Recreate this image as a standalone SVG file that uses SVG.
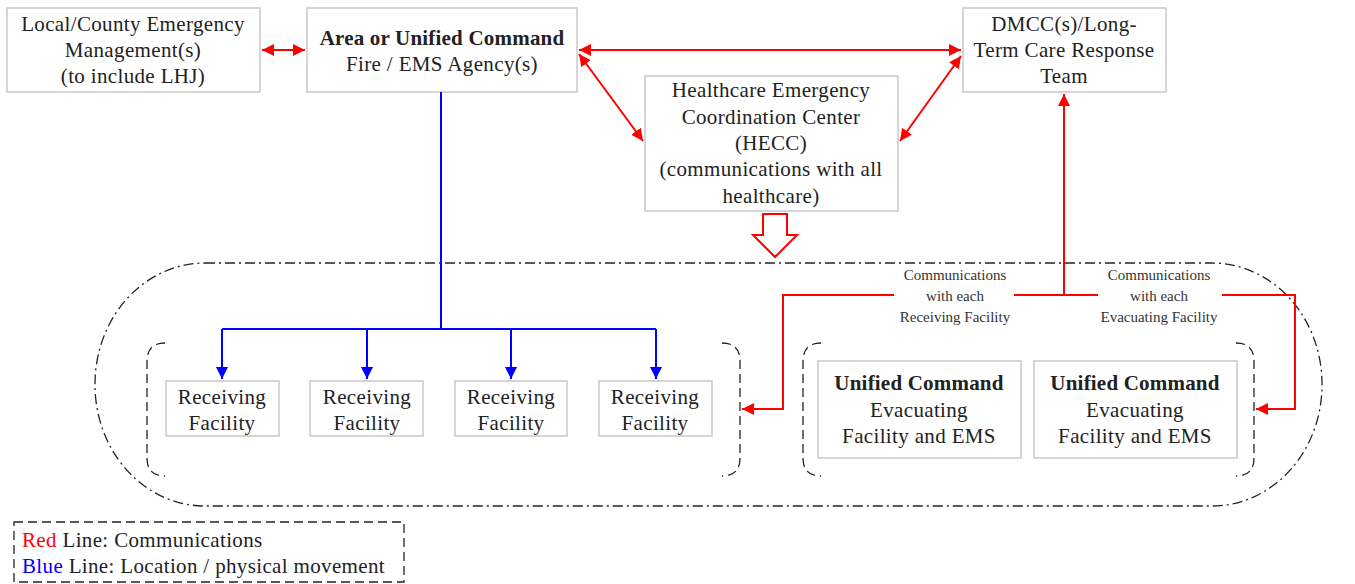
<svg xmlns="http://www.w3.org/2000/svg" width="1355" height="584" viewBox="0 0 1355 584">
<style>
.box{fill:#fff;stroke:#c8c8c8;stroke-width:1.5}
.t{font-family:"Liberation Serif",serif;font-size:21px;letter-spacing:0.35px;fill:#222;text-anchor:middle}
.b{font-weight:bold;letter-spacing:0.2px}
.s{font-family:"Liberation Serif",serif;font-size:15px;fill:#333;text-anchor:middle}
.red{fill:none;stroke:#f00;stroke-width:2}
.blue{fill:none;stroke:#00f;stroke-width:2}
.grp{fill:none;stroke:#222;stroke-width:1.3;stroke-dasharray:9,5}
.lg{font-family:"Liberation Serif",serif;font-size:21px;letter-spacing:0.35px;fill:#222}
</style>
<defs>
<marker id="ar" viewBox="0 0 10 10" refX="10" refY="5" markerWidth="6" markerHeight="6" orient="auto-start-reverse" markerUnits="strokeWidth"><path d="M0,0 L10,5 L0,10 Z" fill="#f00"/></marker>
<marker id="ab" viewBox="0 0 10 10" refX="10" refY="5" markerWidth="6" markerHeight="6" orient="auto" markerUnits="strokeWidth"><path d="M0,0 L10,5 L0,10 Z" fill="#00f"/></marker>
</defs>
<rect width="1355" height="584" fill="#fff"/>

<g id="outer-group">
<rect x="95" y="263" width="1227" height="243" rx="110" ry="121" fill="none" stroke="#222" stroke-width="1.3" stroke-dasharray="10,4,2,4"/>
</g>
<g id="receiving-group">
<path class="grp" d="M165 343 Q147 343 147 361 L147 458 Q147 476 165 476"/>
<path class="grp" d="M722 343 Q740 343 740 361 L740 458 Q740 476 722 476"/>
</g>
<g id="evacuating-group">
<path class="grp" d="M821 343 Q803 343 803 361 L803 458 Q803 476 821 476"/>
<path class="grp" d="M1236 343 Q1254 343 1254 361 L1254 458 Q1254 476 1236 476"/>
</g>

<g id="local">
<rect class="box" x="7" y="8" width="253" height="84"/>
<text class="t" x="133" y="31">Local/County Emergency</text>
<text class="t" x="133" y="57">Management(s)</text>
<text class="t" x="133" y="83">(to include LHJ)</text>
</g>
<g id="area">
<rect class="box" x="307" y="8" width="270" height="84"/>
<text class="t b" x="442" y="45">Area or Unified Command</text>
<text class="t" x="442" y="71">Fire / EMS Agency(s)</text>
</g>
<g id="dmcc">
<rect class="box" x="963" y="8" width="203" height="84"/>
<text class="t" x="1064" y="31">DMCC(s)/Long-</text>
<text class="t" x="1064" y="57">Term Care Response</text>
<text class="t" x="1064" y="83">Team</text>
</g>
<g id="hecc">
<rect class="box" x="645" y="76" width="253" height="135"/>
<text class="t" x="771" y="97">Healthcare Emergency</text>
<text class="t" x="771" y="124">Coordination Center</text>
<text class="t" x="771" y="150">(HECC)</text>
<text class="t" x="771" y="176">(communications with all</text>
<text class="t" x="771" y="203">healthcare)</text>
</g>
<g id="rf1"><rect class="box" x="166" y="381" width="113" height="55"/><text class="t" x="222" y="404">Receiving</text><text class="t" x="222" y="430">Facility</text></g>
<g id="rf2"><rect class="box" x="310" y="381" width="113" height="55"/><text class="t" x="367" y="404">Receiving</text><text class="t" x="367" y="430">Facility</text></g>
<g id="rf3"><rect class="box" x="455" y="381" width="112" height="55"/><text class="t" x="511" y="404">Receiving</text><text class="t" x="511" y="430">Facility</text></g>
<g id="rf4"><rect class="box" x="599" y="381" width="113" height="55"/><text class="t" x="655" y="404">Receiving</text><text class="t" x="655" y="430">Facility</text></g>
<g id="uc1"><rect class="box" x="818" y="361" width="203" height="97"/><text class="t b" x="919" y="390">Unified Command</text><text class="t" x="919" y="417">Evacuating</text><text class="t" x="919" y="443">Facility and EMS</text></g>
<g id="uc2"><rect class="box" x="1034" y="361" width="203" height="97"/><text class="t b" x="1135" y="390">Unified Command</text><text class="t" x="1135" y="417">Evacuating</text><text class="t" x="1135" y="443">Facility and EMS</text></g>

<g id="connectors">
<line class="red" x1="262" y1="50" x2="305" y2="50" marker-start="url(#ar)" marker-end="url(#ar)"/>
<line class="red" x1="579" y1="50" x2="961" y2="50" marker-start="url(#ar)" marker-end="url(#ar)"/>
<line class="red" x1="579" y1="54" x2="643" y2="141" marker-start="url(#ar)" marker-end="url(#ar)"/>
<line class="red" x1="961" y1="56" x2="900" y2="141" marker-start="url(#ar)" marker-end="url(#ar)"/>
<path class="red" d="M1064 295 L1064 94" marker-end="url(#ar)"/>
<path class="red" d="M894 295 L783 295 L783 409 L742 409" marker-end="url(#ar)"/>
<line class="red" x1="1014" y1="295" x2="1098" y2="295"/>
<path class="red" d="M1222 295 L1295 295 L1295 409 L1256 409" marker-end="url(#ar)"/>
<path d="M763 214 L787 214 L787 235 L797 235 L775 257 L753 235 L763 235 Z" fill="#fff" stroke="#f00" stroke-width="2"/>
<path class="blue" d="M441 92 L441 329"/>
<line class="blue" x1="222" y1="329" x2="656" y2="329"/>
<path class="blue" d="M222 329 L222 379" marker-end="url(#ab)"/>
<path class="blue" d="M367 329 L367 379" marker-end="url(#ab)"/>
<path class="blue" d="M511 329 L511 379" marker-end="url(#ab)"/>
<path class="blue" d="M656 329 L656 379" marker-end="url(#ab)"/>
<text class="s" x="955" y="280">Communications</text>
<text class="s" x="955" y="301">with each</text>
<text class="s" x="955" y="322">Receiving Facility</text>
<text class="s" x="1159" y="280">Communications</text>
<text class="s" x="1159" y="301">with each</text>
<text class="s" x="1159" y="322">Evacuating Facility</text>
</g>

<g id="legend">
<rect x="14" y="522" width="390" height="60" fill="none" stroke="#222" stroke-width="1.3" stroke-dasharray="9,5"/>
<text class="lg" x="22" y="547"><tspan fill="#f00">Red</tspan> Line: Communications</text>
<text class="lg" x="22" y="573"><tspan fill="#00f">Blue</tspan> Line: Location / physical movement</text>
</g>
</svg>
